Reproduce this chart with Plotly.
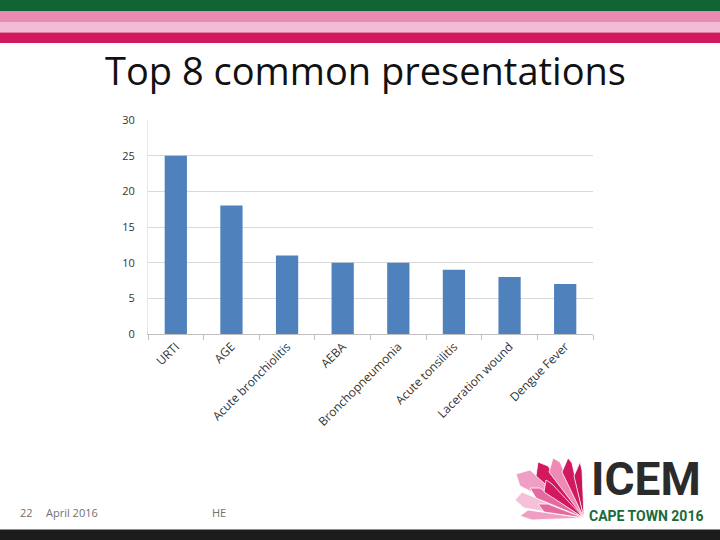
import plotly.graph_objects as go

categories = ["URTI", "AGE", "Acute bronchiolitis", "AEBA", "Bronchopneumonia",
              "Acute tonsilitis", "Laceration wound", "Dengue Fever"]
values = [25, 18, 11, 10, 10, 9, 8, 7]
y_ticks = [0, 5, 10, 15, 20, 25, 30]

W, H = 720, 540
def px(x):
    return x / W
def py(y):
    return 1 - y / H

fig = go.Figure()
fig.add_trace(go.Bar(x=categories, y=values, marker_color="#4f81bd",
                     marker_line_width=0, width=0.4))

shapes = []
stripes = [(0, 11.5, "#116535"), (11.5, 22, "#e98ab3"), (22, 32.5, "#f3bcd6"), (32.5, 43, "#d2185f")]
for y0, y1, c in stripes:
    shapes.append(dict(type="rect", xref="paper", yref="paper", x0=0, x1=1,
                       y0=py(y1), y1=py(y0), fillcolor=c, line_width=0, layer="below"))
shapes.append(dict(type="rect", xref="paper", yref="paper", x0=0, x1=1,
                   y0=0, y1=py(529.5), fillcolor="#1c1c1c", line_width=0))

# logo petals (fan radiating from bottom-right base)
cx, cy = 584, 518
petals = [
    ([(cx, cy), (530, 470), (516, 474), (520, 486)], "#ef9fc3"),
    ([(cx, cy), (522, 492), (515, 500), (524, 508)], "#f5c0d8"),
    ([(cx, cy), (528, 510), (520, 516), (532, 520)], "#ef9fc3"),
    ([(cx, cy), (548, 466), (538, 462), (536, 476)], "#d2185f"),
    ([(cx, cy), (560, 462), (553, 458), (549, 472)], "#ee8ab5"),
    ([(cx, cy), (572, 463), (568, 458), (562, 472)], "#d2185f"),
    ([(cx, cy), (582, 470), (580, 462), (574, 476)], "#c8155a"),
    ([(cx, cy), (540, 488), (530, 488), (536, 498)], "#e46aa0"),
    ([(cx, cy), (552, 484), (546, 480), (544, 492)], "#d2185f"),
    ([(cx, cy), (548, 504), (538, 504), (544, 512)], "#e46aa0"),
]
for pts, c in petals:
    path = "M " + " L ".join(f"{px(x)},{py(y)}" for x, y in pts) + " Z"
    shapes.append(dict(type="path", xref="paper", yref="paper", path=path,
                       fillcolor=c, line=dict(color="white", width=0.8)))

foot_font = dict(family="Liberation Sans Narrow, Open Sans", size=11, color="#707070")
annotations = [
    dict(text="Top 8 common presentations", x=px(365), y=py(70), xref="paper", yref="paper",
         showarrow=False, font=dict(family="Open Sans", size=38, color="#111111"),
         xanchor="center", yanchor="middle"),
    dict(text="22", x=px(18), y=py(512), xref="paper", yref="paper", showarrow=False,
         font=foot_font, xanchor="left", yanchor="middle"),
    dict(text="April 2016", x=px(44), y=py(512), xref="paper", yref="paper", showarrow=False,
         font=foot_font, xanchor="left", yanchor="middle"),
    dict(text="HE", x=px(210), y=py(512), xref="paper", yref="paper", showarrow=False,
         font=foot_font, xanchor="left", yanchor="middle"),
    dict(text="<b>ICEM</b>", x=px(646), y=py(507), xref="paper", yref="paper", showarrow=False,
         font=dict(family="Roboto", size=46, color="#2b2b2b"), borderpad=0,
         xanchor="center", yanchor="bottom"),
    dict(text="<b>CAPE TOWN 2016</b>", x=px(646), y=py(507), xref="paper", yref="paper",
         showarrow=False, font=dict(family="Roboto", size=14, color="#1a6b3a"), borderpad=0,
         xanchor="center", yanchor="top"),
]

fig.update_layout(
    width=W, height=H, margin=dict(l=0, r=0, t=0, b=0),
    paper_bgcolor="white", plot_bgcolor="white",
    showlegend=False, bargap=0.6,
    shapes=shapes, annotations=annotations,
    xaxis=dict(domain=[px(148), px(593)], tickangle=-45, tickson="boundaries",
               ticks="outside", ticklen=5, tickcolor="#bfbfbf",
               showline=True, linecolor="#bfbfbf", linewidth=1,
               tickfont=dict(family="Open Sans", size=12, color="#333333"),
               showgrid=False, automargin=False),
    yaxis=dict(domain=[py(334), py(120)], range=[0, 30], tickvals=y_ticks,
               showgrid=True, gridcolor="#d9d9d9", gridwidth=1,
               showline=True, linecolor="#e6e6e6", zeroline=False,
               ticks="", ticklabelstandoff=10,
               tickfont=dict(family="Open Sans", size=11, color="#333333"),
               automargin=False),
)

fig.write_html("out.html", config={"displayModeBar": False},
               post_script="document.body.style.margin='0';")
